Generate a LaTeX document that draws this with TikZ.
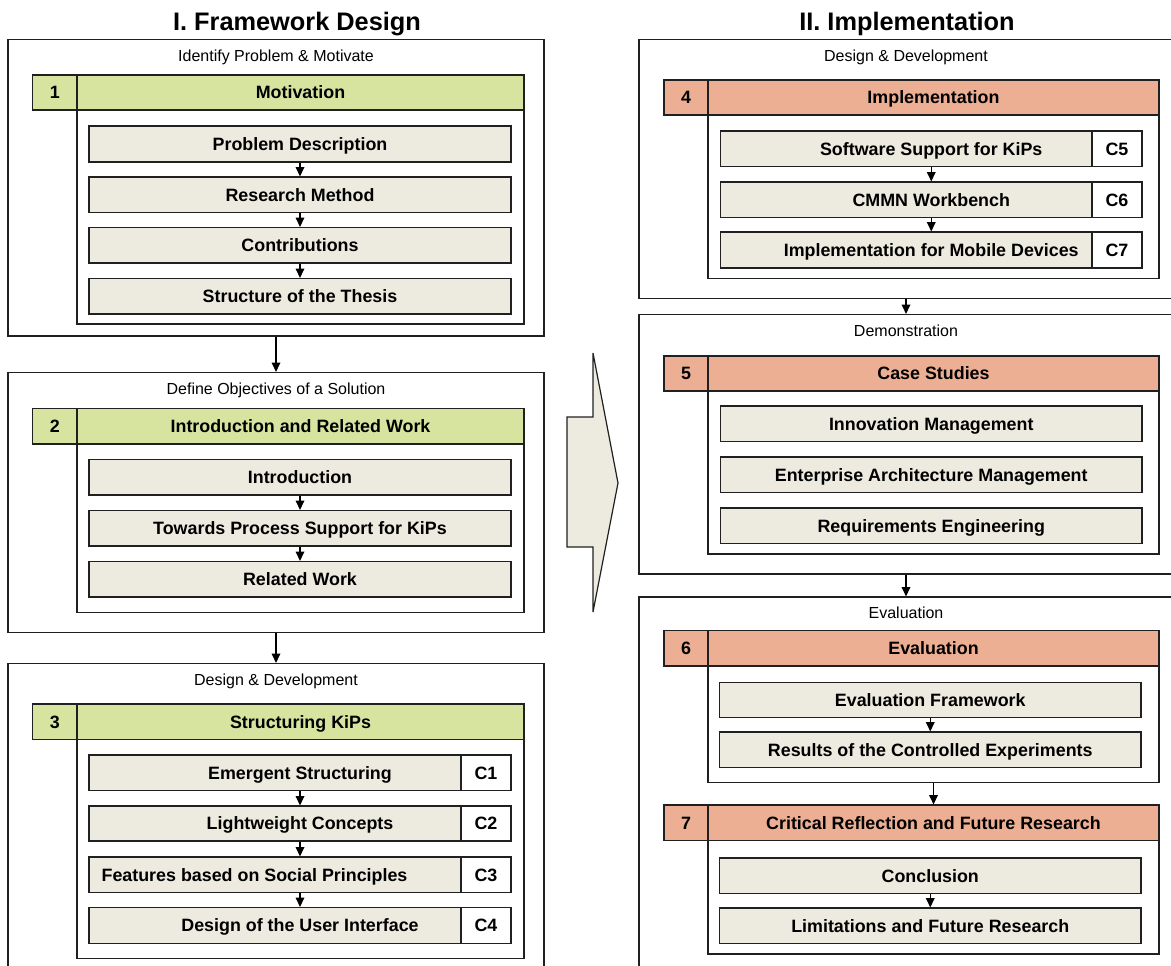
\documentclass[tikz,border=0pt]{standalone}
\usepackage{fontspec}
\setmainfont{Liberation Sans}
\usetikzlibrary{arrows.meta,fit}

\definecolor{phasegreen}{HTML}{D7E4A0}
\definecolor{phasesalmon}{HTML}{ECAF93}
\definecolor{stepfill}{HTML}{EDEBE0}
\definecolor{edge}{HTML}{202020}

\tikzset{
  px/.style={x=0.75pt,y=-0.75pt},
  boldtext/.style={inner sep=0pt,text height=9.6pt,text depth=0pt,
    font=\fontsize{13.4pt}{15pt}\selectfont\bfseries},
  txt/.style={label={[boldtext]center:#1}},
  outerbox/.style={draw=edge,line width=0.9pt,fill=white,inner sep=0pt},
  framebox/.style={draw=edge,line width=0.9pt,inner sep=0pt},
  headcell/.style={draw=edge,line width=0.9pt,inner sep=0pt},
  stepbox/.style={draw=edge,line width=0.9pt,fill=stepfill,inner sep=0pt},
  cbox/.style={draw=edge,line width=0.9pt,fill=white,inner sep=0pt},
  phaselabel/.style={inner sep=0pt,text height=8.6pt,text depth=0pt,
    font=\fontsize{12pt}{14pt}\selectfont},
  parttitle/.style={inner sep=0pt,anchor=base,font=\fontsize{19pt}{22pt}\selectfont\bfseries},
  arr/.style={draw=black,line width=0.9pt,-{Triangle[width=6.5pt,length=7pt]}},
}

\begin{document}
\begin{tikzpicture}[px]
\useasboundingbox (0,0) rectangle (1171,965);
\clip (0,0) rectangle (1171,965);

% ---------------- Part titles ----------------
\node[parttitle] (t1) at (297,30.5) {I. Framework Design};
\node[parttitle] (t2) at (907,30.5) {II. Implementation};

% ================= I. Framework Design =================
% Phase 1
\node[outerbox,fit={(8,39.5)(544,336)}] (o1) {};
\node[phaselabel] (l1) at (276,56) {Identify Problem \& Motivate};
\node[framebox,fit={(77,110)(524,324)}] (f1) {};
\node[headcell,fill=phasegreen,fit={(32.5,75)(77,110)},txt=1] (n1) {};
\node[headcell,fill=phasegreen,fit={(77,75)(524,110)},txt=Motivation] (h1) {};
\node[stepbox,fit={(89,126)(511,162)},txt=Problem Description] (s11) {};
\node[stepbox,fit={(89,177)(511,212.5)},txt=Research Method] (s12) {};
\node[stepbox,fit={(89,227.5)(511,263)},txt=Contributions] (s13) {};
\node[stepbox,fit={(89,278.5)(511,314)},txt=Structure of the Thesis] (s14) {};
\draw[arr] (s11) -- (s12);
\draw[arr] (s12) -- (s13);
\draw[arr] (s13) -- (s14);

% Phase 2
\node[outerbox,fit={(8,372.5)(544,632.5)}] (o2) {};
\node[phaselabel] (l2) at (276,389) {Define Objectives of a Solution};
\node[framebox,fit={(77,444)(524,612.5)}] (f2) {};
\node[headcell,fill=phasegreen,fit={(32.5,408.5)(77,444)},txt=2] (n2) {};
\node[headcell,fill=phasegreen,fit={(77,408.5)(524,444)},txt=Introduction and Related Work] (h2) {};
\node[stepbox,fit={(89,459.5)(511,495)},txt=Introduction] (s21) {};
\node[stepbox,fit={(89,510.5)(511,546)},txt=Towards Process Support for KiPs] (s22) {};
\node[stepbox,fit={(89,561.5)(511,597)},txt=Related Work] (s23) {};
\draw[arr] (s21) -- (s22);
\draw[arr] (s22) -- (s23);

% Phase 3
\node[outerbox,fit={(8,663.5)(544,990)}] (o3) {};
\node[phaselabel] (l3) at (276,680) {Design \& Development};
\node[framebox,fit={(77,739.5)(524,958.5)}] (f3) {};
\node[headcell,fill=phasegreen,fit={(32.5,704)(77,739.5)},txt=3] (n3) {};
\node[headcell,fill=phasegreen,fit={(77,704)(524,739.5)},txt=Structuring KiPs] (h3) {};
\node[stepbox,fit={(89,755)(511,790.5)},txt=Emergent Structuring] (s31) {};
\node[cbox,fit={(461,755)(511,790.5)},txt=C1] (c1) {};
\node[stepbox,fit={(89,806)(511,841)},txt=Lightweight Concepts] (s32) {};
\node[cbox,fit={(461,806)(511,841)},txt=C2] (c2) {};
\node[stepbox,fit={(89,857)(511,892.5)}] (s33) {};
\node[boldtext] (s33t) at (254.5,874.75) {Features based on Social Principles};
\node[cbox,fit={(461,857)(511,892.5)},txt=C3] (c3) {};
\node[stepbox,fit={(89,907.5)(511,943.5)},txt=Design of the User Interface] (s34) {};
\node[cbox,fit={(461,907.5)(511,943.5)},txt=C4] (c4) {};
\draw[arr] (s31) -- (s32);
\draw[arr] (s32) -- (s33);
\draw[arr] (s33) -- (s34);

\draw[arr] (o1) -- (o2);
\draw[arr] (o2) -- (o3);

% ---------------- Transition arrow ----------------
\filldraw[fill=stepfill,draw=edge,line width=0.9pt,line join=miter]
  (567,417) -- (593,417) -- (593,353) -- (618,483) -- (593,612)
  -- (593,547) -- (567,547) -- cycle;

% ================= II. Implementation =================
% Phase 4
\node[outerbox,fit={(639,39.5)(1173,298.5)}] (o4) {};
\node[phaselabel] (l4) at (906,56) {Design \& Development};
\node[framebox,fit={(708,115)(1159,278.5)}] (f4) {};
\node[headcell,fill=phasesalmon,fit={(664,80)(708,115)},txt=4] (n4) {};
\node[headcell,fill=phasesalmon,fit={(708,80)(1159,115)},txt=Implementation] (h4) {};
\node[stepbox,fit={(720.5,131)(1142,166.5)},txt=Software Support for KiPs] (s41) {};
\node[cbox,fit={(1092,131)(1142,166.5)},txt=C5] (c5) {};
\node[stepbox,fit={(720.5,182)(1142,217.5)},txt=CMMN Workbench] (s42) {};
\node[cbox,fit={(1092,182)(1142,217.5)},txt=C6] (c6) {};
\node[stepbox,fit={(720.5,232)(1142,268)},txt=Implementation for Mobile Devices] (s43) {};
\node[cbox,fit={(1092,232)(1142,268)},txt=C7] (c7) {};
\draw[arr] (s41) -- (s42);
\draw[arr] (s42) -- (s43);

% Phase 5
\node[outerbox,fit={(639,314.5)(1173,574)}] (o5) {};
\node[phaselabel] (l5) at (906,331) {Demonstration};
\node[framebox,fit={(708,391)(1159,554)}] (f5) {};
\node[headcell,fill=phasesalmon,fit={(664,356)(708,391)},txt=5] (n5) {};
\node[headcell,fill=phasesalmon,fit={(708,356)(1159,391)},txt=Case Studies] (h5) {};
\node[stepbox,fit={(720.5,406)(1142,441.5)},txt=Innovation Management] (s51) {};
\node[stepbox,fit={(720.5,457)(1142,492.5)},txt=Enterprise Architecture Management] (s52) {};
\node[stepbox,fit={(720.5,508)(1142,543.5)},txt=Requirements Engineering] (s53) {};

% Phase 6
\node[outerbox,fit={(639,597)(1173,990)}] (o6) {};
\node[phaselabel] (l6) at (906,613) {Evaluation};
\node[framebox,fit={(708,666)(1159,782.5)}] (f6) {};
\node[headcell,fill=phasesalmon,fit={(664,630.5)(708,666)},txt=6] (n6) {};
\node[headcell,fill=phasesalmon,fit={(708,630.5)(1159,666)},txt=Evaluation] (h6) {};
\node[stepbox,fit={(719.5,682.5)(1141,717.5)},txt=Evaluation Framework] (s61) {};
\node[stepbox,fit={(719.5,732)(1141,767.5)},txt=Results of the Controlled Experiments] (s62) {};
\draw[arr] (s61) -- (s62);

\node[framebox,fit={(708,840.5)(1159,954)}] (f7) {};
\node[headcell,fill=phasesalmon,fit={(664,805)(708,840.5)},txt=7] (n7) {};
\node[headcell,fill=phasesalmon,fit={(708,805)(1159,840.5)},txt=Critical Reflection and Future Research] (h7) {};
\node[stepbox,fit={(719.5,858)(1141,893.5)},txt=Conclusion] (s71) {};
\node[stepbox,fit={(719.5,908)(1141,943.5)},txt=Limitations and Future Research] (s72) {};
\draw[arr] (s71) -- (s72);
\draw[arr] (f6) -- (h7);

\draw[arr] (o4.south -| l4) -- (o5.north -| l4);
\draw[arr] (o5.south -| l4) -- (o6.north -| l4);
\end{tikzpicture}
\end{document}
